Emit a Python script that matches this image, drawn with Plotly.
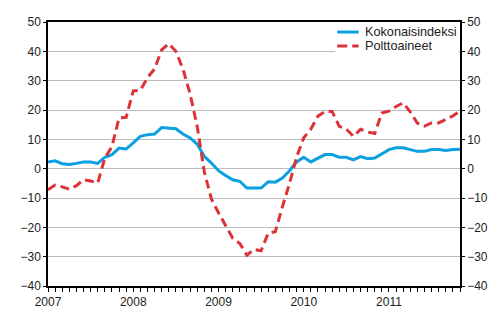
import plotly.graph_objects as go

years = [2007, 2008, 2009, 2010, 2011]
months = [f"{y}-{m:02d}" for y in years for m in range(1, 13)][:59]  # Jan 2007 .. Nov 2011

kokonaisindeksi = [
    2.3, 2.7, 1.7, 1.4, 1.8, 2.3, 2.3, 1.8, 3.9, 4.8,
    7.0, 6.7, 8.8, 11.0, 11.6, 11.8, 14.0, 13.9, 13.6, 11.8,
    10.5, 8.4, 4.2, 1.9, -0.7, -2.3, -3.8, -4.3, -6.6, -6.6,
    -6.6, -4.5, -4.6, -3.2, -0.7, 2.3, 3.9, 2.3, 3.6, 4.8,
    4.8, 3.9, 3.9, 3.0, 4.1, 3.4, 3.6, 5.0, 6.5, 7.1,
    7.1, 6.5, 5.9, 5.9, 6.5, 6.5, 6.2, 6.5, 6.6,
]

polttoaineet = [
    -7.2, -5.6, -6.2, -7.0, -5.8, -3.8, -4.2, -4.9, 3.6, 7.5,
    17.3, 17.5, 26.5, 26.7, 31.0, 34.0, 40.5, 42.6, 40.0, 34.0,
    25.5, 14.5, -1.0, -10.3, -15.0, -19.3, -23.7, -25.5, -29.5, -27.5,
    -28.0, -22.0, -21.5, -13.0, -5.0, 4.0, 10.5, 13.5, 17.9, 19.5,
    19.5, 14.4, 13.5, 11.0, 13.4, 12.5, 12.0, 19.0, 19.6, 21.2,
    22.4, 19.4, 15.5, 14.5, 15.6, 15.6, 16.8, 18.0, 19.6,
]

series_names = ["Kokonaisindeksi", "Polttoaineet"]
y_ticks = [-40, -30, -20, -10, 0, 10, 20, 30, 40, 50]

x_idx = list(range(len(months)))
year_idx = [i for i, m in enumerate(months) if m.endswith("-01")]
year_txt = [months[i][:4] for i in year_idx]

BLUE = "#0aa0e2"
RED = "#dc3338"
FONT = "Liberation Sans, Arial, sans-serif"
TXT = "#222222"

fig = go.Figure()
fig.add_trace(go.Scatter(
    x=x_idx, y=kokonaisindeksi, name=series_names[0], mode="lines",
    line=dict(color=BLUE, width=3), showlegend=False,
))
fig.add_trace(go.Scatter(
    x=x_idx, y=polttoaineet, name=series_names[1], mode="lines",
    line=dict(color=RED, width=3, dash="9px,5px"), showlegend=False,
))
# invisible trace to activate right axis
fig.add_trace(go.Scatter(
    x=x_idx, y=polttoaineet, yaxis="y2", mode="lines", showlegend=False,
    hoverinfo="skip", line=dict(width=0), opacity=0,
))

axis_font = dict(family=FONT, size=12, color=TXT)

# custom legend (paper coordinates)
shapes = [
    dict(type="rect", xref="paper", yref="paper", x0=0.697, x1=0.998, y0=0.879, y1=0.994,
         fillcolor="white", line=dict(width=0), layer="above"),
    dict(type="line", xref="paper", yref="paper", x0=0.702, x1=0.754, y0=0.962, y1=0.962,
         line=dict(color=BLUE, width=3), layer="above"),
    dict(type="line", xref="paper", yref="paper", x0=0.702, x1=0.754, y0=0.909, y1=0.909,
         line=dict(color=RED, width=3, dash="10px,5px"), layer="above"),
]
annotations = [
    dict(xref="paper", yref="paper", x=0.764, y=yy, text=name, showarrow=False,
         xanchor="left", yanchor="middle", font=dict(family=FONT, size=12.7, color=TXT))
    for name, yy in zip(series_names, [0.962, 0.909])
]

fig.update_layout(
    width=500, height=330,
    margin=dict(l=48, r=29, t=22, b=44),
    paper_bgcolor="white", plot_bgcolor="white",
    font=axis_font,
    showlegend=False,
    shapes=shapes,
    annotations=annotations,
    xaxis=dict(
        range=[0, len(months) - 1],
        tickvals=year_idx, ticktext=year_txt,
        ticks="outside", ticklen=4, tickcolor="black", tickwidth=1,
        minor=dict(tickvals=x_idx, ticks="outside", ticklen=4, tickcolor="black", showgrid=False),
        showline=True, linecolor="black", linewidth=1.5, mirror=True,
        showgrid=False, zeroline=False, tickfont=axis_font,
    ),
    yaxis=dict(
        range=[-40, 50], tickvals=y_ticks,
        ticks="outside", ticklen=3, tickcolor="black",
        showline=True, linecolor="black", linewidth=1.5,
        showgrid=True, gridcolor="#bdbdbd", gridwidth=1,
        zeroline=False, tickfont=axis_font,
    ),
    yaxis2=dict(
        range=[-40, 50], tickvals=y_ticks, overlaying="y", side="right",
        ticks="outside", ticklen=3, tickcolor="black",
        showline=True, linecolor="black", linewidth=1.5,
        showgrid=False, zeroline=False, tickfont=axis_font,
    ),
)

fig.write_html("out.html")
